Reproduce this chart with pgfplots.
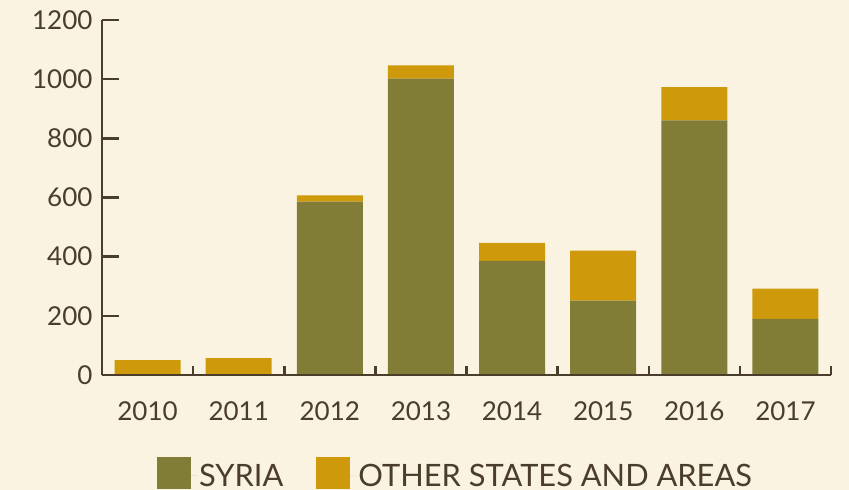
\documentclass[border=0pt]{standalone}
\usepackage{pgfplots}
\pgfplotsset{compat=1.18}
\usepackage{fontspec}
\setmainfont{Lato}
\definecolor{bg}{HTML}{FAF3E1}
\definecolor{olive}{HTML}{817D37}
\definecolor{gold}{HTML}{CE9A0C}
\definecolor{ink}{HTML}{4B3D2C}
\begin{document}
\begin{tikzpicture}[x=1pt,y=1pt]
\fill[bg] (0,0) rectangle (849,490);
\useasboundingbox (0,0) rectangle (849,490);
\begin{axis}[
  at={(102pt,115pt)}, anchor=south west,
  scale only axis, width=729pt, height=355pt,
  xmin=-0.5, xmax=7.5, ymin=0, ymax=1200,
  ybar stacked, bar width=0.725,
  axis x line*=bottom, axis y line*=left,
  axis line style={ink, line width=2.5pt, -},
  axis on top,
  xtick={0,...,7}, xticklabels={2010,2011,2012,2013,2014,2015,2016,2017},
  minor xtick={0.5,1.5,...,7.5},
  ytick={0,200,...,1200},
  tick align=inside,
  major tick length=17pt, minor tick length=9pt,
  major x tick style={draw=none},
  minor x tick style={ink, line width=2.5pt},
  major y tick style={ink, line width=2.5pt},
  ticklabel style={font=\fontsize{26}{30}\selectfont, text=ink},
  xticklabel style={yshift=-23pt},
  yticklabel style={xshift=-6pt},
  /pgf/number format/assume math mode=true,
  /pgf/number format/1000 sep={},
  legend style={at={(0.0754,-0.324)}, anchor=south west, draw=none, fill=none, inner sep=0pt,
    font=\fontsize{30.8}{34}\selectfont, text=ink,
    /tikz/every even column/.append style={column sep=31pt}},
  legend columns=2,
  legend image code/.code={\fill[#1] (0pt,-13pt) rectangle (34pt,19pt); \path (0pt,0pt) -- (40pt,0pt);},
]
\addplot[fill=olive, draw=none] coordinates {(0,0) (1,0) (2,586) (3,1002) (4,386) (5,251) (6,861) (7,190)};
\addplot[fill=gold, draw=none] coordinates {(0,50) (1,57) (2,21) (3,45) (4,61) (5,169) (6,112) (7,102)};
\legend{SYRIA, OTHER STATES AND AREAS}
\end{axis}
\end{tikzpicture}
\end{document}
